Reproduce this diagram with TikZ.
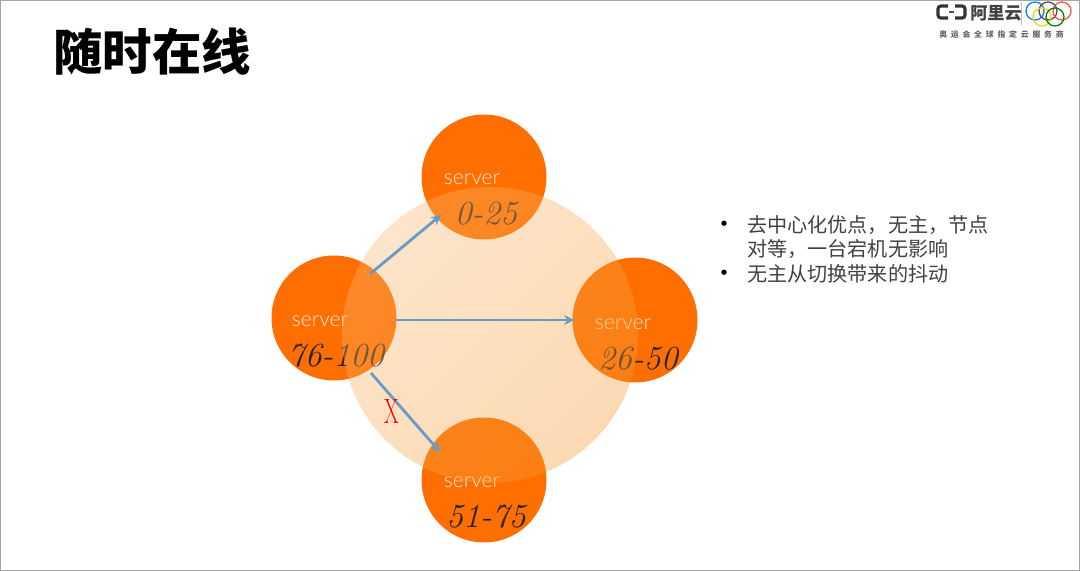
\documentclass[tikz,border=0pt]{standalone}
\usepackage{fontspec}
\newfontfamily\cjk{Noto Sans CJK SC}
\newfontfamily\latofont{Lato Light}
\usetikzlibrary{arrows.meta}
\definecolor{srvorange}{HTML}{FF6E00}
\definecolor{bigpeach}{HTML}{F59A30}
\definecolor{bigpale}{HTML}{F9B870}
\definecolor{linkblue}{HTML}{6A9BC3}
\tikzset{
srv/.style={circle,fill=srvorange,minimum size=125*0.025cm,inner sep=0pt},
srvname/.style={text=white,text opacity=0.85,font=\latofont\fontsize{15}{15}\selectfont,inner sep=0pt},
srvrange/.style={text=black!85,font=\itshape\fontsize{24}{24}\selectfont,inner sep=0pt},
link/.style={-{Stealth[length=7pt,width=7pt]},linkblue,line width=2pt},
rim/.style={line width=0.9pt},
}
\begin{document}
\begin{tikzpicture}[x=0.025cm,y=-0.025cm]
\useasboundingbox (0,0) rectangle (1080,571);
\draw[black!35,line width=0.6pt] (0.5,0.5) rectangle (1079.5,570.5);
\node[anchor=west,inner sep=0pt] (title) at (53,52) {\cjk\bfseries\fontsize{35.2}{35.2}\selectfont 随时在线};
% servers
\node[srv] (S0) at (484,177) {};
\node[srv] (S1) at (635,320) {};
\node[srv] (S2) at (484,480) {};
\node[srv] (S3) at (334,318) {};
\node[srvname] (N0) at (472,179) {server};
\node[srvname] (N1) at (623,324) {server};
\node[srvname] (N2) at (472,482) {server};
\node[srvname] (N3) at (320,321) {server};
\node[srvrange] (R0) at (486,214) {0-25};
\node[srvrange] (R1) at (638,359) {26-50};
\node[srvrange] (R2) at (486,517) {51-75};
\node[srvrange] (R3) at (336,356) {76-100};
% ring on top of the servers
\node[circle,minimum size=296*0.025cm,inner sep=0pt,top color=bigpale,bottom color=bigpeach,shading angle=45,fill opacity=0.37] (ring) at (490,335) {};
\coordinate (A0) at (370,274);
\coordinate (B0) at (441,215);
\coordinate (A1) at (396,320);
\coordinate (B1) at (574,320);
\coordinate (A2) at (371,373);
\coordinate (B2) at (440,452);
\draw[link] (A0) -- (B0);
\draw[link] (A1) -- (B1);
\draw[link] (A2) -- (B2);
\node[text=red,inner sep=0pt,xscale=0.6,font=\fontsize{25}{25}\selectfont] (X) at (392,411) {X};
% bullets
\node[anchor=north west,inner sep=0pt,text width=250*0.025cm,text=black!75,font=\cjk\fontsize{14.3}{17.6}\selectfont] (notes) at (747,215) {去中心化优点，无主，节点\\对等，一台宕机无影响\\无主从切换带来的抖动};
\node[inner sep=0pt,font=\fontsize{14}{14}\selectfont] (b1) at (724,225) {\textbullet};
\node[inner sep=0pt,font=\fontsize{14}{14}\selectfont] (b2) at (724,274) {\textbullet};
% logo
\node[anchor=west,inner sep=0pt,text=black!75,font=\cjk\bfseries\fontsize{12.2}{12.2}\selectfont] (ali) at (970,13) {阿里云};
\node[anchor=west,inner sep=0pt,text=black!60,font=\cjk\bfseries\fontsize{5.6}{5.6}\selectfont] (sub) at (939,35) {\addfontfeature{LetterSpace=48}奥运会全球指定云服务商};
\coordinate (L1) at (948,6);
\coordinate (L2) at (938,6);
\coordinate (L3) at (938,18);
\coordinate (L4) at (948,18);
\coordinate (M1) at (955,6);
\coordinate (M2) at (965,6);
\coordinate (M3) at (965,18);
\coordinate (M4) at (955,18);
\draw[black!80,line width=2.2pt,rounded corners=2pt] (L1) -- (L2) -- (L3) -- (L4);
\draw[black!80,line width=2.2pt,rounded corners=2pt] (M1) -- (M2) -- (M3) -- (M4);
\coordinate (D1) at (949,12);
\coordinate (D2) at (954,12);
\draw[black!70,line width=0.8pt] (D1) -- (D2);
\coordinate (V1) at (1021,2);
\coordinate (V2) at (1021,25);
\draw[black!25] (V1) -- (V2);
\foreach \rx/\ry/\rc in {1035/11/blue!50!cyan,1048/11/black!70,1062/11/red!70,1042/17/yellow!70!orange,1055/17/green!50!black}
  \draw[\rc,rim] (\rx,\ry) circle[radius=9*0.025cm];
\end{tikzpicture}
\end{document}
